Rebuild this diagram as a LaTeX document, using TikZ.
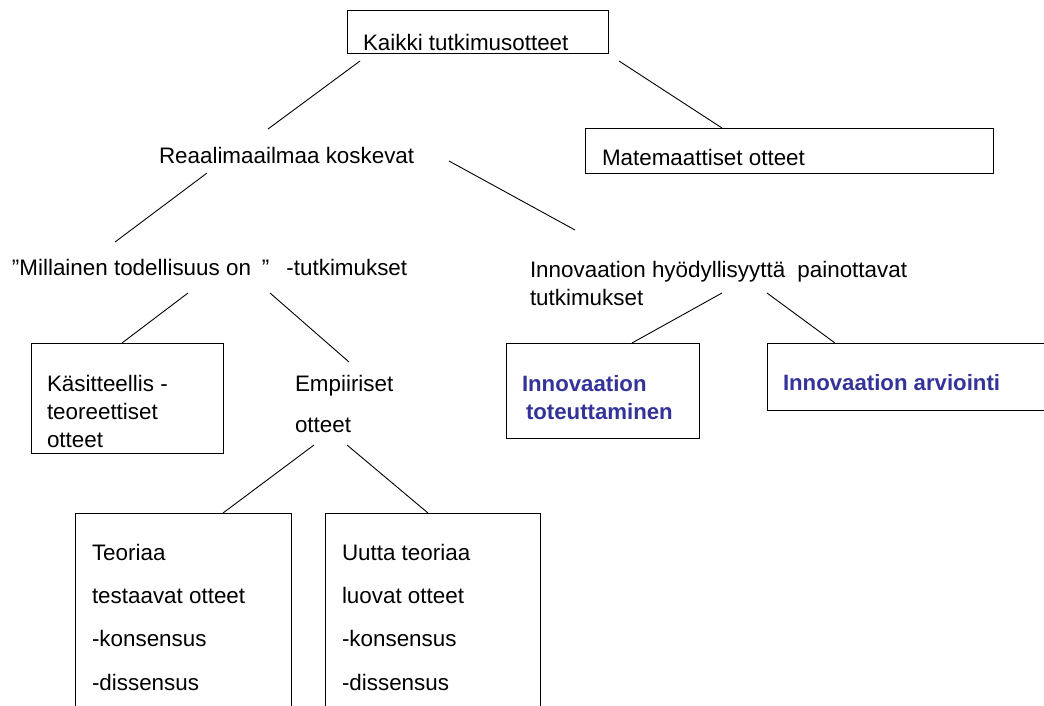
\documentclass[tikz,border=0pt]{standalone}
\usepackage{fontspec}
\setmainfont{Liberation Sans}
\usetikzlibrary{calc}
\definecolor{innoblue}{HTML}{333399}
\begin{document}
\begin{tikzpicture}[x=1pt,y=-1pt,
  box/.style={draw=black, line width=1pt, rectangle, inner sep=0pt, outer sep=0pt, anchor=north west},
  lbl/.style={anchor=base west, inner sep=0pt, outer sep=0pt, font=\fontsize{22.4}{26}\selectfont},
  blu/.style={lbl, font=\fontsize{22.2}{26}\selectfont\bfseries, text=innoblue},
  link/.style={line width=0.9pt}]
\useasboundingbox (0,0) rectangle (1044,705);
\clip (0,0) rectangle (1044,705);

% boxes
\node[box, minimum width=261, minimum height=43] (kaikki) at (347,10) {};
\node[box, minimum width=408, minimum height=45] (mat) at (585,128) {};
\node[box, minimum width=192, minimum height=110] (kas) at (31,343) {};
\node[box, minimum width=193, minimum height=95] (tot) at (506,343) {};
\node[box, minimum width=300, minimum height=67] (arv) at (767,343) {};
\node[box, minimum width=216, minimum height=230] (teo) at (75,513) {};
\node[box, minimum width=215, minimum height=230] (uut) at (325,513) {};

% labels
\node[lbl] (tKaikki) at (363,50) {Kaikki tutkimusotteet};
\node[lbl] (tMat) at (602,165) {Matemaattiset otteet};
\node[lbl] (tReal) at (159,163) {Reaalimaailmaa koskevat};
\node[lbl] (tMill) at (12,275) {”Millainen todellisuus on\hspace{11pt}”\hspace{17pt}-tutkimukset};
\node[lbl] (tInno1) at (530,277) {Innovaation hyödyllisyyttä\hspace{6pt} painottavat};
\node[lbl] (tInno2) at (530,305) {tutkimukset};
\node[lbl] (tKas1) at (47,391) {Käsitteellis -};
\node[lbl] (tKas2) at (47,419) {teoreettiset};
\node[lbl] (tKas3) at (47,447) {otteet};
\node[lbl] (tEmp1) at (295,391) {Empiiriset};
\node[lbl] (tEmp2) at (295,432) {otteet};
\node[blu] (tTot1) at (522,391) {Innovaation};
\node[blu] (tTot2) at (526,419) {toteuttaminen};
\node[blu] (tArv) at (783,390) {Innovaation arviointi};
\node[lbl] (tTeo1) at (92,560) {Teoriaa};
\node[lbl] (tTeo2) at (92,603) {testaavat otteet};
\node[lbl] (tTeo3) at (92,646) {-konsensus};
\node[lbl] (tTeo4) at (92,690) {-dissensus};
\node[lbl] (tUut1) at (342,560) {Uutta teoriaa};
\node[lbl] (tUut2) at (342,603) {luovat otteet};
\node[lbl] (tUut3) at (342,646) {-konsensus};
\node[lbl] (tUut4) at (342,690) {-dissensus};

% free ends of the connectors
\coordinate (kaikkiL) at (360,61);
\coordinate (kaikkiR) at (619,61);
\coordinate (realUp) at (268,129);
\coordinate (realL) at (207,173);
\coordinate (realR) at (449,161);
\coordinate (millUp) at (115,242);
\coordinate (innoUp) at (575,230);
\coordinate (millL) at (188,293);
\coordinate (millR) at (270,293);
\coordinate (empUp) at (349,362);
\coordinate (empL) at (314,445);
\coordinate (empR) at (347,445);
\coordinate (innoL) at (722,293);
\coordinate (innoR) at (767,293);

% connectors
\draw[link] (kaikkiL) -- (realUp);
\draw[link] (kaikkiR) -- ($(mat.north west)+(137,0)$);
\draw[link] (realL) -- (millUp);
\draw[link] (realR) -- (innoUp);
\draw[link] (millL) -- ($(kas.north west)+(91,0)$);
\draw[link] (millR) -- (empUp);
\draw[link] (empL) -- ($(teo.north west)+(148,0)$);
\draw[link] (empR) -- ($(uut.north west)+(103,0)$);
\draw[link] (innoL) -- ($(tot.north west)+(126,0)$);
\draw[link] (innoR) -- ($(arv.north west)+(68,0)$);
\end{tikzpicture}
\end{document}
